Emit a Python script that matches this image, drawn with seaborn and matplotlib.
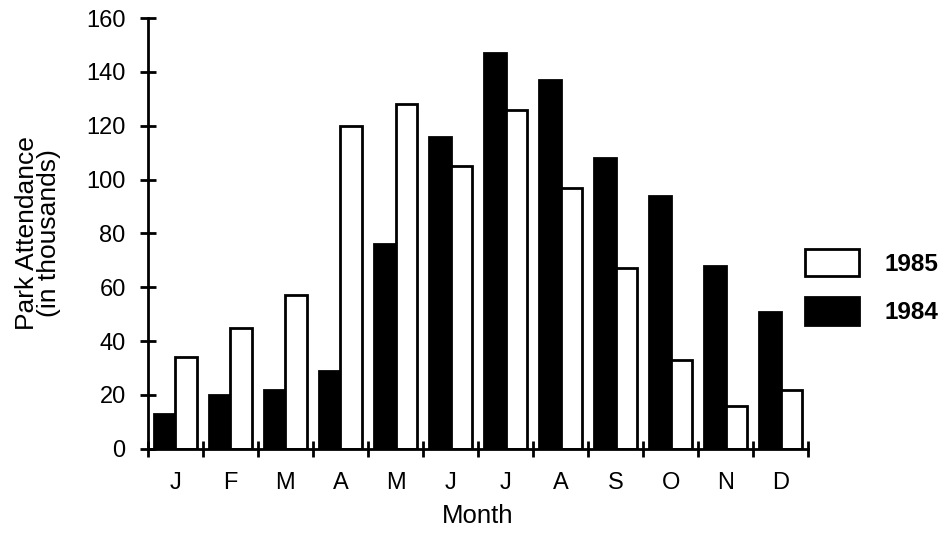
import matplotlib
matplotlib.use("Agg")
import matplotlib.pyplot as plt
import numpy as np
import pandas as pd
import seaborn as sns
from matplotlib.patches import Patch

months = ["J", "F", "M", "A", "M", "J", "J", "A", "S", "O", "N", "D"]
attendance_1984 = [13, 20, 22, 29, 76, 116, 147, 137, 108, 94, 68, 51]
attendance_1985 = [34, 45, 57, 120, 128, 105, 126, 97, 67, 33, 16, 22]
y_ticks = [0, 20, 40, 60, 80, 100, 120, 140, 160]

# long format, month index keeps the repeated letters apart
rows = []
for i in range(len(months)):
    rows.append({"idx": i, "Year": "1984", "value": attendance_1984[i]})
    rows.append({"idx": i, "Year": "1985", "value": attendance_1985[i]})
df = pd.DataFrame(rows)

sns.set_style("ticks")
plt.rcParams["font.family"] = ["Liberation Sans", "DejaVu Sans"]
plt.rcParams["text.color"] = "black"
plt.rcParams["axes.labelcolor"] = "black"
plt.rcParams["xtick.color"] = "black"
plt.rcParams["ytick.color"] = "black"

fig = plt.figure(figsize=(9.42, 5.33), dpi=100)
ax = fig.add_axes([0.157, 0.158, 0.701, 0.808])

sns.barplot(
    data=df, x="idx", y="value", hue="Year", hue_order=["1984", "1985"],
    palette={"1984": "black", "1985": "white"}, edgecolor="black",
    linewidth=2, width=0.78, ax=ax, legend=False,
)

ax.set_xlim(-0.5, 11.5)
ax.set_ylim(0, 160)
ax.set_yticks(y_ticks)
ax.set_yticklabels([str(v) for v in y_ticks], fontsize=17)
ax.set_xticks(range(len(months)))
ax.set_xticklabels(months, fontsize=17)
ax.set_xticks(np.arange(-0.5, 12, 1), minor=True)
ax.tick_params(axis="x", which="major", length=0, pad=17)
ax.tick_params(axis="x", which="minor", length=11, width=2, direction="inout")
ax.tick_params(axis="y", length=12, width=2, direction="inout", pad=10)

for side in ["top", "right"]:
    ax.spines[side].set_visible(False)
for side in ["left", "bottom"]:
    ax.spines[side].set_linewidth(2)
    ax.spines[side].set_color("black")

ax.set_xlabel("Month", fontsize=18.5, labelpad=7)
ax.set_ylabel("Park Attendance\n(in thousands)", fontsize=19, labelpad=18,
              linespacing=0.9)

handles = [
    Patch(facecolor="white", edgecolor="black", linewidth=2, label="1985"),
    Patch(facecolor="black", edgecolor="black", linewidth=2, label="1984"),
]
fig.legend(
    handles=handles, loc="center left", bbox_to_anchor=(0.831, 0.462),
    frameon=False, handlelength=2.22, handleheight=1.38, handletextpad=1.05,
    labelspacing=0.85, prop={"size": 17.5, "weight": "bold"},
)

fig.savefig("out.png", dpi=100)
